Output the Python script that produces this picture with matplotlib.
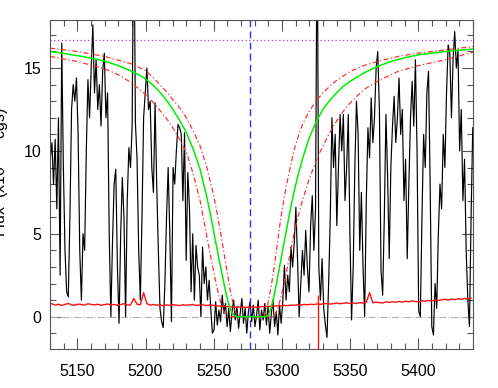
import numpy as np
import matplotlib
matplotlib.use("Agg")
import matplotlib.pyplot as plt

plt.rcParams['font.family'] = ['Liberation Sans', 'DejaVu Sans']

# observed spectrum (flux on a 1.2 A pixel grid starting at 5129 A)
wave_start = 5129.0
wave_step = 1.2
flux = [0.5, 9.5, 10.5, 8.0, 10.7, 6.5, 12.0, 2.5, 16.5, 9.0, 4.0, 1.5, 1.2, 6.0, 12.5, 14.0, 13.0, 14.4, 11.0, 4.0, 1.0, 5.0,
        4.0, 10.0, 14.3, 12.0, 15.0, 17.6, 13.5, 15.5, 12.5, 14.0, 11.5, 14.8, 15.9, 12.0, 13.5, 5.0, 0.0, 4.5, 8.0, 8.9,
        3.0, -0.4, 5.0, 8.4, 6.0, 0.0, 7.0, 10.2, 9.0, 11.5,
        25.0,
        11.7, 9.5, 4.0, 1.0, 6.0, 12.0, 13.5, 15.0, 12.5, 13.0, 9.0, 7.5, 12.9, 8.0, 4.0, 0.5, -0.3, -0.65, 2.0, 6.0, 9.0,
        5.0, -0.3, 9.0, 8.0, 10.0, 11.6, 11.4, 11.0, 7.0, 11.1, 3.4, 8.7, 6.6, 1.5, 5.0, 1.0, 4.3, 3.0, 2.5, 0.0, 4.2, 2.0,
        3.0, 1.0, 2.2, 0.5,
        -1.0, -0.8, 0.9, -0.5, 0.4, -0.3, 1.3, 0.2, 0.8, -0.6, 0.5, -0.9, 0.3, 1.0, -0.2, 0.6, -0.7, 0.2, 1.1, -0.4, 0.5,
        -1.0, 0.3, 0.9, -0.3, 0.7, -0.6, 0.1, 1.0, -0.8, 0.4, -0.2, 0.8, -0.5, 0.6, -1.0, 0.2, 1.0, -0.6, 0.3, -1.1, 0.7,
        -0.4, 0.9,
        3.1, 1.0, 2.5, 1.5, 4.2, 3.0, 4.5, 6.6, 3.5, 0.0, 2.0, 4.0, 2.5, 5.2, 3.0, 1.5, 5.5, 7.3, 4.0, 6.5,
        25.0,
        3.0, 1.0, 3.5, 0.5, -0.5, -1.25, 2.0, 6.0, 12.0, 9.0, 11.0, 5.5, 9.0, 12.2, 10.0, 12.2, 7.0, 9.0, 12.2, 5.0, -0.2,
        3.0, 9.0, 13.0, 11.0, 4.0, 7.5, 3.0, 0.0, 7.0, 11.4, 9.6, 13.2, 10.5, 12.0, 15.0, 16.0, 12.5, 2.8, 1.3, 6.0, 12.2,
        8.5, 3.5, 9.0, 11.5, 13.3, 10.5, 12.0, 14.4, 11.0, 12.5, 7.0, 9.5, 3.5, 8.0, 12.0, 14.2, 11.5, 15.5, 10.0, 0.35,
        0.0, 6.0, 11.0, 9.0, 13.5, 14.8, 8.0, -0.6, -1.1, 2.0, 0.5, 5.0, 8.0, 6.5, 11.0, 9.0, 13.5, 16.4, 15.9, 12.0, 15.5,
        17.2, 15.0, 16.1, 10.0, 12.5, 7.0, 9.5, 4.0, 1.0, -0.6, 6.0, 11.4]

# error spectrum (2.4 A grid)
err_step = 2.4
err = [0.72, 0.78, 0.70, 0.75, 0.68, 0.74, 0.80, 0.71, 0.69, 0.76, 0.73, 0.70, 0.78, 0.74, 0.71, 0.75, 0.69, 0.72,
       0.77, 0.70, 0.74, 0.68, 0.73, 0.79, 0.71, 0.70,
       1.1, 0.75, 0.72, 1.45, 0.78,
       0.70, 0.74, 0.69, 0.72, 0.66, 0.71, 0.68, 0.73, 0.70, 0.67, 0.72, 0.69, 0.71, 0.74, 0.68, 0.70, 0.72, 0.67,
       0.70, 0.69, 0.66, 0.64, 0.63, 0.62, 0.60,
       0.58, 0.57, 0.59, 0.58, 0.56, 0.58, 0.59, 0.57, 0.58, 0.60, 0.61, 0.62,
       0.63, 0.64, 0.66, 0.65, 0.68, 0.67, 0.70, 0.69, 0.72, 0.70, 0.74, 0.72, 0.75, 0.73, 0.77, 0.74, 0.78, 0.80,
       0.76, 0.79, 0.82, 0.78, 0.81, 0.84, 0.80, 0.83, 0.79, 0.85, 0.82, 0.86,
       1.45,
       0.84, 0.88, 0.85, 0.83, 0.89, 0.86, 0.90, 0.87, 0.92, 0.88, 0.93, 0.90, 0.95, 0.91, 0.89, 0.96, 0.93, 0.98,
       0.95, 1.00, 0.97, 1.02, 1.05, 1.00, 1.06, 1.03, 1.08, 1.05, 1.10, 1.07, 1.12]

# DLA model fit and its +/- bounds
model_wave = [5130, 5140, 5150, 5160, 5170, 5180, 5190, 5195, 5200, 5205, 5210, 5215, 5220, 5225, 5230, 5235, 5240,
              5245, 5248, 5251, 5254, 5257, 5259, 5261, 5263, 5265, 5267, 5288, 5290, 5292, 5294, 5296, 5298, 5300,
              5303, 5306, 5309, 5312, 5315, 5320, 5325, 5330, 5335, 5340, 5345, 5350, 5360, 5370, 5380, 5390, 5400,
              5420, 5440]
model_flux = [16.0, 15.88, 15.75, 15.6, 15.42, 15.15, 14.8, 14.6, 14.35, 14.0, 13.6, 13.1, 12.5, 11.85, 11.1, 10.1, 8.9,
              7.2, 6.0, 4.7, 3.4, 2.2, 1.4, 0.75, 0.3, 0.08, 0.0, 0.0, 0.1, 0.5, 1.2, 2.0, 2.9, 3.8,
              5.1, 6.4, 7.6, 8.6, 9.5, 10.8, 11.75, 12.5, 13.05, 13.5, 13.9, 14.2, 14.7, 15.1, 15.4, 15.62, 15.8,
              16.0, 16.15]
upper_wave = [5130, 5150, 5170, 5190, 5200, 5206, 5215, 5220, 5225, 5230, 5235, 5240, 5245, 5250, 5253, 5256, 5259,
              5261, 5263, 5265, 5267, 5269, 5286, 5288, 5290, 5292, 5294, 5296, 5298, 5300, 5303, 5306, 5309, 5312,
              5315, 5320, 5325, 5330, 5335, 5340, 5350, 5360, 5370, 5385, 5400, 5420, 5440]
upper_flux = [16.2, 16.0, 15.7, 15.25, 14.85, 14.4, 13.6, 13.1, 12.6, 12.0, 11.2, 10.3, 9.0, 7.3, 6.0, 4.6, 3.1,
              2.1, 1.2, 0.5, 0.1, 0.0, 0.0, 0.2, 0.9, 1.8, 2.8, 4.0, 5.3, 6.4, 7.8, 9.0, 10.1, 10.9,
              11.6, 12.4, 13.0, 13.5, 13.9, 14.25, 14.8, 15.15, 15.4, 15.7, 15.9, 16.1, 16.3]
lower_wave = [5130, 5150, 5170, 5180, 5190, 5200, 5206, 5210, 5215, 5220, 5225, 5230, 5235, 5240, 5243, 5246, 5249,
              5252, 5254, 5256, 5258, 5260, 5262, 5293, 5295, 5297, 5299, 5302, 5305, 5308, 5311, 5315, 5320, 5325,
              5330, 5335, 5340, 5345, 5350, 5360, 5370, 5385, 5400, 5420, 5440]
lower_flux = [15.7, 15.4, 14.95, 14.6, 14.1, 13.4, 12.9, 12.5, 12.0, 11.4, 10.7, 9.9, 8.6, 7.0, 5.7, 4.4, 3.1,
              1.9, 1.2, 0.6, 0.2, 0.02, 0.0, 0.0, 0.1, 0.5, 1.1, 2.2, 3.4, 4.7, 5.8, 7.0, 8.3, 9.4,
              10.3, 11.1, 11.8, 12.4, 12.9, 13.7, 14.2, 14.8, 15.15, 15.5, 15.96]

continuum_level = 16.7
dla_center = 5276.6
bad_pixel = 5326.2
bad_err_top = 1.3

wave = wave_start + wave_step * np.arange(len(flux))
err_wave = wave_start + err_step * np.arange(len(err))

fig = plt.figure(figsize=(4.98, 3.88), dpi=100)
ax = fig.add_axes([0.1004, 0.1005, 0.8494, 0.848])

ax.axhline(0, color='#b0b0b0', ls='-.', lw=0.8)
ax.axhline(continuum_level, color='#9a40ff', ls=(0, (1, 2)), lw=0.9)
ax.plot(wave, flux, color='black', lw=0.85)
ax.plot(err_wave, err, color='#ff1010', lw=1.0)
ax.vlines(bad_pixel, -5, bad_err_top, color='#ff1010', lw=1.0)
ax.plot(upper_wave, upper_flux, color='#ff3030', ls=(0, (4, 2, 1, 2)), lw=0.9)
ax.plot(lower_wave, lower_flux, color='#ff3030', ls=(0, (4, 2, 1, 2)), lw=0.9)
ax.plot(model_wave, model_flux, color='#00ee00', lw=1.1)
ax.axvline(dla_center, color='#3030ff', ls=(0, (5, 3)), lw=1.0)

ax.set_xlim(5130, 5440)
ax.set_ylim(-1.95, 17.9)
ax.set_xticks([5150, 5200, 5250, 5300, 5350, 5400])
ax.set_xticks(np.arange(5130, 5441, 10), minor=True)
ax.set_yticks([0, 5, 10, 15])
ax.set_yticks(np.arange(-1, 18, 1), minor=True)
ax.tick_params(which='both', direction='in', top=True, right=True, color='#555555',
               labelsize=11.5, width=0.8)
ax.tick_params(which='major', length=8)
ax.tick_params(which='minor', length=4)
ax.tick_params(axis='x', pad=11)
ax.tick_params(axis='y', pad=6)
for s in ax.spines.values():
    s.set_color('#555555')
    s.set_linewidth(0.8)

# y label sits partly outside the canvas, as in the original plot
fig.text(0.022, 0.557, 'Flux  (x10$^{-17}$ cgs)', rotation=90, ha='right', va='center', fontsize=11.5)

fig.savefig('out.png', dpi=100)
